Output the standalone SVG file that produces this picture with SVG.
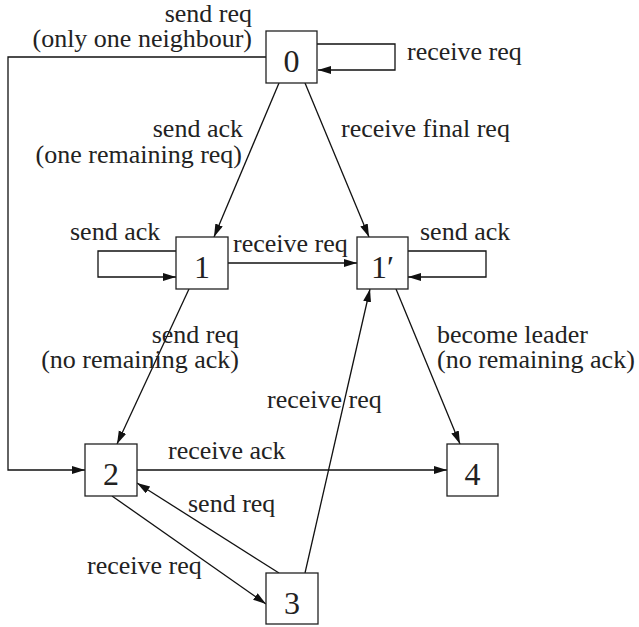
<svg xmlns="http://www.w3.org/2000/svg" width="639" height="627" viewBox="0 0 639 627">
<style>
.box{fill:#fff;stroke:#222;stroke-width:1.3}
.num{font-family:"Liberation Serif",serif;font-size:32px;fill:#222;text-anchor:middle}
.lbl{font-family:"Liberation Serif",serif;font-size:26px;fill:#222}
.e{fill:none;stroke:#111;stroke-width:1.3;marker-end:url(#arr)}
</style>
<defs>
<marker id="arr" markerUnits="userSpaceOnUse" markerWidth="14" markerHeight="10" refX="13" refY="4" orient="auto">
<path d="M0,0 L13,4 L0,8 z" fill="#111"/>
</marker>
</defs>
<rect width="639" height="627" fill="#fff"/>
<g id="connectors">
<path class="e" d="M317,44 H395 V70 H318"/>
<path class="e" d="M176,251 H98 V277 H176"/>
<path class="e" d="M408,251 H486 V277 H408"/>
<path class="e" d="M266,57 H8 V470 H85"/>
<path class="e" d="M279,83 L214,237"/>
<path class="e" d="M305,83 L369,237"/>
<path class="e" d="M228,263 H357"/>
<path class="e" d="M189,289 L117,444"/>
<path class="e" d="M396,289 L460,444"/>
<path class="e" d="M305,573 L370,289"/>
<path class="e" d="M137,470 H447"/>
<path class="e" d="M279,573 L137,483"/>
<path class="e" d="M112,496 L266,604"/>
</g>
<g id="labels">
<text class="lbl" x="252" y="22" text-anchor="end">send req</text>
<text class="lbl" x="252" y="47" text-anchor="end">(only one neighbour)</text>
<text class="lbl" x="407" y="60">receive req</text>
<text class="lbl" x="243" y="137" text-anchor="end">send ack</text>
<text class="lbl" x="242" y="163" text-anchor="end">(one remaining req)</text>
<text class="lbl" x="341" y="137">receive final req</text>
<text class="lbl" x="70" y="240">send ack</text>
<text class="lbl" x="233" y="252">receive req</text>
<text class="lbl" x="420" y="240">send ack</text>
<text class="lbl" x="239" y="343" text-anchor="end">send req</text>
<text class="lbl" x="239" y="368" text-anchor="end">(no remaining ack)</text>
<text class="lbl" x="437" y="343">become leader</text>
<text class="lbl" x="437" y="368">(no remaining ack)</text>
<text class="lbl" x="267" y="408">receive req</text>
<text class="lbl" x="168" y="459">receive ack</text>
<text class="lbl" x="188" y="512">send req</text>
<text class="lbl" x="87" y="574">receive req</text>
</g>
<g id="node0"><rect class="box" x="266" y="31" width="51" height="52"/><text class="num" x="291.5" y="72">0</text></g>
<g id="node1"><rect class="box" x="176" y="237" width="52" height="52"/><text class="num" x="202" y="278">1</text></g>
<g id="node1p"><rect class="box" x="357" y="237" width="51" height="52"/><text class="num" x="382.5" y="278">1′</text></g>
<g id="node2"><rect class="box" x="85" y="444" width="52" height="52"/><text class="num" x="111" y="485">2</text></g>
<g id="node3"><rect class="box" x="266" y="573" width="52" height="51"/><text class="num" x="292" y="614">3</text></g>
<g id="node4"><rect class="box" x="447" y="444" width="51" height="52"/><text class="num" x="472.5" y="485">4</text></g>
</svg>
